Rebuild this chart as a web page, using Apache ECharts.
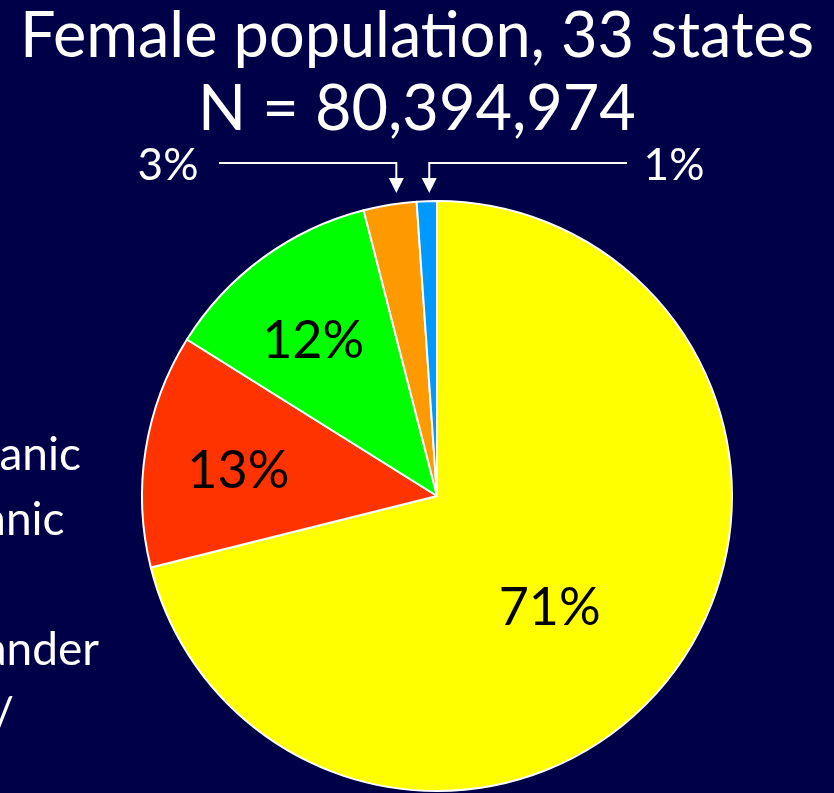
<!DOCTYPE html>
<html>
<head>
<meta charset="utf-8">
<script src="https://cdn.jsdelivr.net/npm/echarts@6/dist/echarts.min.js"></script>
<style>
html,body{margin:0;padding:0;background:#000048;}
#chart{width:834px;height:793px;}
</style>
</head>
<body>
<div id="chart"></div>
<script>
const titleLines = ['Female population, 33 states', 'N = 80,394,974'];
const categories = ['White, non-Hispanic', 'Black, non-Hispanic', 'Hispanic', 'Asian/Pacific Islander', 'American Indian/\nAlaska Native'];
const values = [71.1, 12.8, 12.1, 2.9, 1.1];
const valueLabels = ['71%', '13%', '12%', '3%', '1%'];
const colors = ['#FFFF00', '#FF3300', '#00FF00', '#FF9900', '#0099FF'];

const FONT = 'Lato, "Open Sans", sans-serif';
const BG = '#000048';

// label nudges / placements (layout only)
const insideNudge = [[-6, 20], [-50, -1], [-35, -33]];
const calloutLabelPos = {3: [168, 166], 4: [674, 166]};
const calloutLineEnd = {3: 219, 4: 627};
const arrowFrac = 0.62;

// measure legend text to place its right edge like the reference crop
const mctx = document.createElement('canvas').getContext('2d');
const legendSize = 46;
mctx.font = legendSize + 'px ' + FONT;
const firstW = mctx.measureText(categories[0]).width;
const legendLeft = 75 - firstW - 30 - 5;

const chart = echarts.init(document.getElementById('chart'));
const option = {
  backgroundColor: BG,
  animation: false,
  title: {
    text: titleLines.join('\n'),
    left: 417,
    top: 0,
    padding: 0,
    textAlign: 'center',
    textStyle: {color: '#fff', fontFamily: FONT, fontSize: 63, fontWeight: 'normal', lineHeight: 73}
  },
  legend: {
    orient: 'vertical',
    left: legendLeft,
    top: 417.5,
    height: 600,
    itemGap: 0,
    itemWidth: 30,
    itemHeight: 30,
    icon: 'rect',
    data: categories,
    textStyle: {color: '#fff', fontFamily: FONT, fontSize: legendSize, lineHeight: 65}
  },
  series: [{
    type: 'pie',
    center: [437, 496],
    radius: 295,
    startAngle: 90,
    clockwise: true,
    avoidLabelOverlap: false,
    itemStyle: {borderColor: '#fff', borderWidth: 2},
    label: {
      show: true,
      position: 'inside',
      formatter: p => valueLabels[p.dataIndex],
      color: '#000',
      fontFamily: FONT,
      fontSize: 52
    },
    labelLine: {show: false},
    emphasis: {disabled: true},
    labelLayout: function (p) {
      const i = p.dataIndex;
      if (calloutLabelPos[i]) {
        return {x: calloutLabelPos[i][0], y: calloutLabelPos[i][1], align: 'center', verticalAlign: 'middle'};
      }
      return {dx: insideNudge[i][0], dy: insideNudge[i][1]};
    },
    data: categories.map((c, i) => ({
      name: c,
      value: values[i],
      itemStyle: {color: colors[i]},
      label: i >= 3 ? {color: '#fff', fontSize: 44} : undefined
    }))
  }]
};
chart.setOption(option);

// callout arrows derived from the pie's computed layout (added straight to the renderer)
const pdata = chart.getModel().getSeriesByIndex(0).getData();
const zr = chart.getZr();
[3, 4].forEach(i => {
  const L = pdata.getItemLayout(i);
  const ang = L.startAngle + (L.endAngle - L.startAngle) * arrowFrac;
  const x = L.cx + L.r * Math.cos(ang);
  const tipY = L.cy - L.r - 8;
  const lineY = tipY - 30;
  zr.add(new echarts.graphic.Polyline({
    shape: {points: [[calloutLineEnd[i], lineY], [x, lineY], [x, tipY - 14]]},
    style: {stroke: '#fff', lineWidth: 2, fill: null},
    silent: true,
    z: 10
  }));
  zr.add(new echarts.graphic.Polygon({
    shape: {points: [[x - 7.5, tipY - 15], [x + 7.5, tipY - 15], [x, tipY]]},
    style: {fill: '#fff'},
    silent: true,
    z: 10
  }));
});
</script>
</body>
</html>
